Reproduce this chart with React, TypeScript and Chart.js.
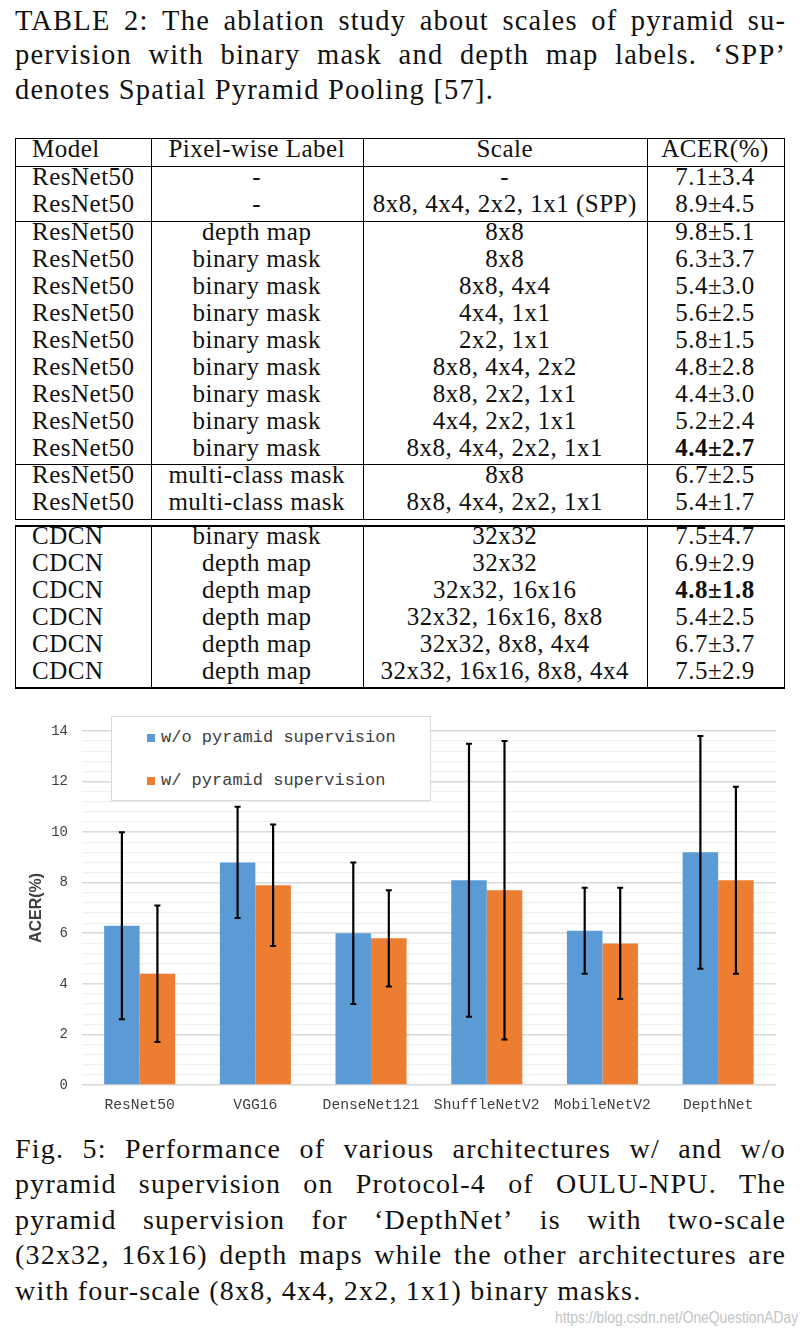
import React, { useEffect, useRef } from 'react';
import { Chart, registerables } from 'chart.js';

Chart.register(...registerables);

// ---------------- chart data ----------------
const ARCHITECTURES = ['ResNet50', 'VGG16', 'DenseNet121', 'ShuffleNetV2', 'MobileNetV2', 'DepthNet'];
const SERIES_LABELS = ['w/o pyramid supervision', 'w/ pyramid supervision'];
const SERIES_COLORS = ['#5b9bd5', '#ed7d31'];
const ACER_WITHOUT_PS = [6.3, 8.8, 6.0, 8.1, 6.1, 9.2];
const STD_WITHOUT_PS = [3.7, 2.2, 2.8, 5.4, 1.7, 4.6];
const ACER_WITH_PS = [4.4, 7.9, 5.8, 7.7, 5.6, 8.1];
const STD_WITH_PS = [2.7, 2.4, 1.9, 5.9, 2.2, 3.7];
const Y_MIN = 0;
const Y_MAX = 14;
const Y_LABEL_STEP = 2;
const Y_GRID_STEP = 0.4;
const Y_AXIS_TITLE = 'ACER(%)';

// ---------------- table data ----------------
const TABLE_HEADER = ['Model', 'Pixel-wise Label', 'Scale', 'ACER(%)'];
const ROWS_NO_PYRAMID = [
  ['ResNet50', '-', '-', '7.1±3.4'],
  ['ResNet50', '-', '8x8, 4x4, 2x2, 1x1 (SPP)', '8.9±4.5'],
];
const ROWS_RESNET_BINARY = [
  ['ResNet50', 'depth map', '8x8', '9.8±5.1'],
  ['ResNet50', 'binary mask', '8x8', '6.3±3.7'],
  ['ResNet50', 'binary mask', '8x8, 4x4', '5.4±3.0'],
  ['ResNet50', 'binary mask', '4x4, 1x1', '5.6±2.5'],
  ['ResNet50', 'binary mask', '2x2, 1x1', '5.8±1.5'],
  ['ResNet50', 'binary mask', '8x8, 4x4, 2x2', '4.8±2.8'],
  ['ResNet50', 'binary mask', '8x8, 2x2, 1x1', '4.4±3.0'],
  ['ResNet50', 'binary mask', '4x4, 2x2, 1x1', '5.2±2.4'],
  ['ResNet50', 'binary mask', '8x8, 4x4, 2x2, 1x1', '4.4±2.7'],
];
const ROWS_RESNET_MULTI = [
  ['ResNet50', 'multi-class mask', '8x8', '6.7±2.5'],
  ['ResNet50', 'multi-class mask', '8x8, 4x4, 2x2, 1x1', '5.4±1.7'],
];
const ROWS_CDCN = [
  ['CDCN', 'binary mask', '32x32', '7.5±4.7'],
  ['CDCN', 'depth map', '32x32', '6.9±2.9'],
  ['CDCN', 'depth map', '32x32, 16x16', '4.8±1.8'],
  ['CDCN', 'depth map', '32x32, 16x16, 8x8', '5.4±2.5'],
  ['CDCN', 'depth map', '32x32, 8x8, 4x4', '6.7±3.7'],
  ['CDCN', 'depth map', '32x32, 16x16, 8x8, 4x4', '7.5±2.9'],
];
const BOLD_CELLS = ['4.4±2.7', '4.8±1.8'];

// ---------------- text ----------------
const TITLE_LINES = [
  'TABLE 2: The ablation study about scales of pyramid su-',
  'pervision with binary mask and depth map labels. ‘SPP’',
  'denotes Spatial Pyramid Pooling [57].',
];
const CAPTION_LINES = [
  'Fig. 5: Performance of various architectures w/ and w/o',
  'pyramid supervision on Protocol-4 of OULU-NPU. The',
  'pyramid supervision for ‘DepthNet’ is with two-scale',
  '(32x32, 16x16) depth maps while the other architectures are',
  'with four-scale (8x8, 4x4, 2x2, 1x1) binary masks.',
];
const WATERMARK = 'https://blog.csdn.net/OneQuestionADay';

const SERIF = "'Liberation Serif', serif";
const MONO = "'Liberation Mono', monospace";

const TEXT_LEFT = 15;
const TEXT_WIDTH = 770;

function TextBlock({
  lines,
  top,
  lineHeight,
  fontSize,
  letterSpacing,
}: {
  lines: string[];
  top: number;
  lineHeight: number;
  fontSize: number;
  letterSpacing: number;
}) {
  return (
    <>
      {lines.map((line, i) => {
        const isLast = i === lines.length - 1;
        const base: React.CSSProperties = {
          position: 'absolute',
          left: TEXT_LEFT,
          width: TEXT_WIDTH,
          top: top + i * lineHeight,
          height: lineHeight,
          lineHeight: lineHeight + 'px',
          fontSize,
          letterSpacing,
          fontFamily: SERIF,
          whiteSpace: 'nowrap',
          color: '#111',
        };
        if (isLast) return <div key={i} style={base}>{line}</div>;
        const words = line.split(' ');
        return (
          <div key={i} style={{ ...base, display: 'flex', justifyContent: 'space-between' }}>
            {words.map((w, j) => (
              <span key={j} style={j === words.length - 1 ? { marginRight: -letterSpacing } : undefined}>
                {w}
              </span>
            ))}
          </div>
        );
      })}
    </>
  );
}

const COL_X = [15, 150.5, 363, 646.5, 783.5];

function Table() {
  const sections = [
    { rows: [TABLE_HEADER], rowH: 27.7, gap: 0 },
    { rows: ROWS_NO_PYRAMID, rowH: 27.5, gap: 0 },
    { rows: ROWS_RESNET_BINARY, rowH: 27, gap: 0 },
    { rows: ROWS_RESNET_MULTI, rowH: 27.5, gap: 0 },
    { rows: ROWS_CDCN, rowH: 27, gap: 6.7 },
  ];
  let y = 138;
  const hLines: number[] = [];
  const vSegs: { top: number; bottom: number }[] = [];
  const cells: React.ReactNode[] = [];
  sections.forEach((sec, si) => {
    y += sec.gap;
    const start = y;
    if (!hLines.some((h) => Math.abs(h - start) < 0.5)) hLines.push(start);
    sec.rows.forEach((row, ri) => {
      const rowTop = y + ri * sec.rowH;
      row.forEach((txt, ci) => {
        const left = COL_X[ci];
        const width = COL_X[ci + 1] - COL_X[ci];
        cells.push(
          <div
            key={`${si}-${ri}-${ci}`}
            style={{
              position: 'absolute',
              top: rowTop - 3,
              left,
              width,
              height: sec.rowH,
              lineHeight: sec.rowH + 'px',
              fontSize: 25,
              letterSpacing: 0.5,
              fontFamily: SERIF,
              whiteSpace: 'nowrap',
              textAlign: ci === 0 ? 'left' : 'center',
              paddingLeft: ci === 0 ? 17 : 0,
              boxSizing: 'border-box',
              fontWeight: BOLD_CELLS.includes(txt) ? 'bold' : 'normal',
              color: '#111',
            }}
          >
            {txt}
          </div>
        );
      });
    });
    y += sec.rows.length * sec.rowH;
    hLines.push(y);
    vSegs.push({ top: start, bottom: y });
  });
  return (
    <>
      {cells}
      {hLines.map((h, i) => (
        <div key={'h' + i} style={{ position: 'absolute', left: COL_X[0], width: COL_X[4] - COL_X[0] + 1, top: h, height: 1.2, background: '#000' }} />
      ))}
      {vSegs.map((s, i) =>
        COL_X.map((x, j) => (
          <div key={`v${i}-${j}`} style={{ position: 'absolute', left: x, width: 1.2, top: s.top, height: s.bottom - s.top + 1, background: '#000' }} />
        ))
      )}
    </>
  );
}

const errorBarPlugin = {
  id: 'errorBars',
  afterDatasetsDraw(chart: any) {
    const ctx = chart.ctx;
    const yScale = chart.scales.y;
    chart.data.datasets.forEach((ds: any, di: number) => {
      const meta = chart.getDatasetMeta(di);
      meta.data.forEach((bar: any, i: number) => {
        const v = ds.data[i];
        const e = ds.errors[i];
        const yTop = yScale.getPixelForValue(v + e);
        const yBot = yScale.getPixelForValue(v - e);
        const x = bar.x;
        ctx.save();
        ctx.strokeStyle = '#000';
        ctx.lineWidth = 2.2;
        ctx.beginPath();
        ctx.moveTo(x, yTop);
        ctx.lineTo(x, yBot);
        ctx.stroke();
        ctx.lineWidth = 2;
        ctx.beginPath();
        ctx.moveTo(x - 3, yTop);
        ctx.lineTo(x + 3, yTop);
        ctx.moveTo(x - 3, yBot);
        ctx.lineTo(x + 3, yBot);
        ctx.stroke();
        ctx.restore();
      });
    });
  },
};

function isMajor(v: number) {
  const r = v / Y_LABEL_STEP;
  return Math.abs(r - Math.round(r)) < 1e-6;
}

function BarChart() {
  const ref = useRef<HTMLCanvasElement | null>(null);
  useEffect(() => {
    if (!ref.current) return;
    const chart = new Chart(ref.current, {
      type: 'bar',
      data: {
        labels: ARCHITECTURES,
        datasets: [
          { label: SERIES_LABELS[0], data: ACER_WITHOUT_PS, errors: STD_WITHOUT_PS, backgroundColor: SERIES_COLORS[0] } as any,
          { label: SERIES_LABELS[1], data: ACER_WITH_PS, errors: STD_WITH_PS, backgroundColor: SERIES_COLORS[1] } as any,
        ],
      },
      options: {
        responsive: false,
        animation: false,
        devicePixelRatio: 1,
        layout: { padding: { left: 0, right: 26, top: 31, bottom: 0 } },
        plugins: { legend: { display: false }, tooltip: { enabled: false } },
        datasets: { bar: { barPercentage: 1, categoryPercentage: 0.614 } },
        scales: {
          x: {
            grid: { display: false, drawTicks: false },
            border: { display: false },
            ticks: {
              font: { family: MONO, size: 14.7 },
              color: '#404040',
              padding: 11,
              maxRotation: 0,
              autoSkip: false,
            },
            afterFit: (s: any) => {
              s.height = 35;
            },
          },
          y: {
            min: Y_MIN,
            max: Y_MAX,
            border: { display: false },
            grid: {
              drawTicks: false,
              color: (c: any) => (c.tick && isMajor(c.tick.value) ? '#d9d9d9' : '#f0f0f0'),
              lineWidth: (c: any) => (c.tick && isMajor(c.tick.value) ? 1.6 : 1.3),
            },
            ticks: {
              stepSize: Y_GRID_STEP,
              autoSkip: false,
              padding: 13.8,
              color: '#404040',
              font: { family: MONO, size: 14 },
              callback: (value: any) => (isMajor(Number(value)) ? String(Math.round(Number(value))) : ''),
            },
            title: {
              display: true,
              text: Y_AXIS_TITLE,
              color: '#404040',
              font: { family: "'Liberation Sans', sans-serif", size: 16, weight: 'bold' },
              padding: { top: 27.4, bottom: 0 },
            },
            afterFit: (s: any) => {
              s.width = 81.8;
            },
          },
        },
      } as any,
      plugins: [errorBarPlugin],
    });
    return () => chart.destroy();
  }, []);
  return <canvas ref={ref} width={802} height={420} style={{ position: 'absolute', left: 0, top: 700 }} />;
}

function Legend() {
  return (
    <div
      style={{
        position: 'absolute',
        left: 111,
        top: 716,
        width: 320,
        height: 85,
        boxSizing: 'border-box',
        border: '1.5px solid #d9d9d9',
        background: '#fff',
      }}
    >
      {SERIES_LABELS.map((lab, i) => {
        const cy = 737 - 716 + i * 43;
        return (
          <React.Fragment key={i}>
            <div style={{ position: 'absolute', left: 35, top: cy - 4.5, width: 8, height: 8, background: SERIES_COLORS[i] }} />
            <div
              style={{
                position: 'absolute',
                left: 49,
                top: cy - 10,
                height: 20,
                lineHeight: '20px',
                fontSize: 17,
                fontFamily: MONO,
                whiteSpace: 'nowrap',
                color: '#404040',
              }}
            >
              {lab}
            </div>
          </React.Fragment>
        );
      })}
    </div>
  );
}

export default function App() {
  return (
    <div style={{ position: 'absolute', left: 0, top: 0, width: 802, height: 1334, background: '#fff', overflow: 'hidden' }}>
      <TextBlock lines={TITLE_LINES} top={3.8} lineHeight={34.6} fontSize={28.5} letterSpacing={1.2} />
      <Table />
      <BarChart />
      <Legend />
      <TextBlock lines={CAPTION_LINES} top={1130.8} lineHeight={35.5} fontSize={28} letterSpacing={1.2} />
      <div
        style={{
          position: 'absolute',
          right: 4,
          top: 1308,
          height: 20,
          lineHeight: '20px',
          fontSize: 16,
          fontFamily: "'Liberation Sans', sans-serif",
          color: '#c4c4c4',
          whiteSpace: 'nowrap',
          transform: 'scaleX(0.865)',
          transformOrigin: 'right center',
        }}
      >
        {WATERMARK}
      </div>
    </div>
  );
}
